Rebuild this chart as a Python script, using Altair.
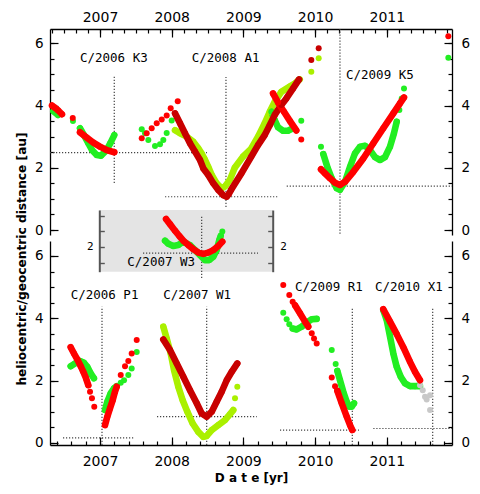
import altair as alt
import pandas as pd

# ------------------------------------------------------------------ ticks / labels
YEARS = [2007, 2008, 2009, 2010, 2011]
X_DOMAIN = [2006.3027, 2011.9093]
TOP_MINOR_TICKS = [round(2006 + k / 6, 4) for k in range(2, 36)]
BOT_MINOR_TICKS = [round(2006.4 + k * 0.2, 2) for k in range(28)]
Y_MAJOR = [0, 2, 4, 6]
Y_MINOR = [k * 0.5 for k in range(13)]
INSET_TICKS = [1.5, 2, 2.5, 3]
INSET_LABEL_TICKS = [2]
TOP_Y_DOMAIN = [-0.16, 6.46]
BOT_Y_DOMAIN = [-0.07, 6.48]
INSET_Y_DOMAIN = [1.21, 3.18]

# ------------------------------------------------------------------ top panel data
K3_RED_A_T = [2006.331, 2006.372, 2006.414, 2006.470]
K3_RED_A_V = [4.00, 3.93, 3.85, 3.72]
K3_RED_DOT_T = [2006.620]
K3_RED_DOT_V = [3.60]
K3_RED_B_T = [2006.721, 2006.815, 2006.907, 2007.000, 2007.093, 2007.199]
K3_RED_B_V = [3.14, 2.97, 2.81, 2.68, 2.57, 2.50]
K3_GRN_A_T = [2006.350, 2006.414]
K3_GRN_A_V = [3.82, 3.70]
K3_GRN_DOT_T = [2006.623]
K3_GRN_DOT_V = [3.50]
K3_GRN_B_T = [2006.721, 2006.777, 2006.837, 2006.888, 2006.954, 2007.014, 2007.093, 2007.146, 2007.199]
K3_GRN_B_V = [3.27, 3.05, 2.79, 2.57, 2.41, 2.39, 2.57, 2.80, 3.05]

A1_RED_DOT_T = [2007.582, 2007.651, 2007.721, 2007.791, 2007.861, 2007.930, 2007.986, 2008.084]
A1_RED_DOT_V = [2.95, 3.11, 3.27, 3.43, 3.55, 3.68, 3.91, 4.14]
A1_GRN_DOT_T = [2007.582, 2007.628, 2007.674, 2007.767, 2007.837, 2007.883, 2007.930, 2008.000]
A1_GRN_DOT_V = [3.24, 3.11, 2.89, 2.70, 2.76, 2.89, 3.12, 3.52]
A1_DKR_T = [2008.046, 2008.116, 2008.185, 2008.255, 2008.325, 2008.395, 2008.441, 2008.510,
            2008.580, 2008.650, 2008.720, 2008.767, 2008.795, 2008.831, 2008.971, 2009.110,
            2009.204, 2009.297, 2009.367, 2009.437, 2009.529, 2009.599, 2009.693, 2009.776]
A1_DKR_V = [3.75, 3.43, 3.11, 2.79, 2.52, 2.25, 1.98, 1.77, 1.50, 1.29, 1.12, 1.07, 1.15, 1.30,
            1.82, 2.36, 2.73, 3.05, 3.37, 3.70, 4.02, 4.23, 4.55, 4.84]
A1_DKR_DOT_T = [2009.947, 2010.050]
A1_DKR_DOT_V = [5.46, 5.84]
A1_YGR_T = [2008.046, 2008.116, 2008.209, 2008.301, 2008.371, 2008.418, 2008.455, 2008.510,
            2008.558, 2008.627, 2008.697, 2008.743, 2008.813, 2008.879, 2008.994, 2009.110,
            2009.204, 2009.297, 2009.367, 2009.437, 2009.529, 2009.646, 2009.716, 2009.785]
A1_YGR_V = [3.21, 3.11, 3.00, 2.84, 2.63, 2.46, 2.30, 2.03, 1.77, 1.50, 1.34, 1.40, 1.62, 2.00,
            2.36, 2.62, 3.00, 3.43, 3.80, 4.12, 4.44, 4.61, 4.71, 4.84]
A1_YGR_DOT_T = [2009.947, 2010.050]
A1_YGR_DOT_V = [5.09, 5.52]
A1_RED_LATE_T = [2009.413, 2009.483, 2009.566, 2009.650, 2009.738]
A1_RED_LATE_V = [4.39, 4.10, 3.80, 3.50, 3.20]
A1_RED_LATE_DOT_T = [2009.807]
A1_RED_LATE_DOT_V = [2.91]
A1_GRN_LATE_T = [2009.389, 2009.437, 2009.483, 2009.552, 2009.622, 2009.692]
A1_GRN_LATE_V = [3.80, 3.53, 3.30, 3.19, 3.19, 3.27]
A1_GRN_LATE_DOT_T = [2009.807]
A1_GRN_LATE_DOT_V = [3.51]

K5_RED_T = [2010.082, 2010.138, 2010.208, 2010.278, 2010.347, 2010.417, 2010.533, 2010.672,
            2010.812, 2010.951, 2011.091, 2011.184, 2011.240]
K5_RED_V = [1.95, 1.82, 1.66, 1.52, 1.45, 1.55, 1.87, 2.30, 2.79, 3.27, 3.75, 4.07, 4.26]
K5_GRN_DOT_T = [2010.082, 2011.175, 2011.208, 2011.240]
K5_GRN_DOT_V = [2.68, 3.86, 4.23, 4.55]
K5_GRN_T = [2010.114, 2010.170, 2010.232, 2010.301, 2010.347, 2010.417, 2010.487, 2010.556,
            2010.626, 2010.696, 2010.766, 2010.835, 2010.905, 2010.975, 2011.045, 2011.100, 2011.138]
K5_GRN_V = [2.44, 2.03, 1.66, 1.34, 1.29, 1.55, 2.03, 2.46, 2.68, 2.71, 2.57, 2.34, 2.25, 2.34,
            2.68, 3.11, 3.48]
FAR_RED_T = [2011.858]
FAR_RED_V = [6.23]
FAR_GRN_T = [2011.858]
FAR_GRN_V = [5.54]

TOP_LABELS = ["C/2006 K3", "C/2008 A1", "C/2009 K5"]
TOP_LABEL_T = [2006.721, 2008.279, 2010.431]
TOP_LABEL_V = [5.52, 5.52, 4.98]
TOP_VLINE_T = [2007.199, 2008.757, 2010.347]
TOP_VLINE_V1 = [1.51, 0.74, -0.12]
TOP_VLINE_V2 = [4.93, 4.92, 6.46]
TOP_HLINE_V = [2.49, 1.07, 1.41]
TOP_HLINE_T1 = [2006.3027, 2007.907, 2009.604]
TOP_HLINE_T2 = [2008.492, 2009.497, 2011.9093]

# ------------------------------------------------------------------ inset (C/2007 W3)
W3_RED_T = [2007.921, 2007.976, 2008.046, 2008.106, 2008.162, 2008.232, 2008.301, 2008.371,
            2008.441, 2008.510, 2008.580, 2008.650, 2008.706]
W3_RED_V = [2.89, 2.73, 2.52, 2.35, 2.20, 2.06, 1.93, 1.82, 1.78, 1.82, 1.90, 2.03, 2.17]
W3_GRN_T = [2007.907, 2007.953, 2008.022, 2008.092, 2008.162, 2008.255, 2008.325, 2008.395,
            2008.464, 2008.524, 2008.580, 2008.627, 2008.664, 2008.683]
W3_GRN_V = [2.20, 2.10, 2.03, 2.06, 2.17, 2.06, 1.90, 1.74, 1.58, 1.58, 1.69, 1.90, 2.22, 2.35]
W3_GRN_DOT_T = [2008.706]
W3_GRN_DOT_V = [2.49]
INSET_BOX_T = [2006.990, 2009.409]
INSET_BOX_V = [1.21, 3.18]
INSET_LABEL = ["C/2007 W3"]
INSET_LABEL_T = [2007.381]
INSET_LABEL_V = [1.53]
INSET_VLINE_T = [2008.418]
INSET_VLINE_V1 = [1.01]
INSET_VLINE_V2 = [3.02]
INSET_HLINE_V = [1.80]
INSET_HLINE_T1 = [2007.600]
INSET_HLINE_T2 = [2009.204]

# ------------------------------------------------------------------ bottom panel data
P1_RED_A_T = [2006.591, 2006.637, 2006.683, 2006.731, 2006.767, 2006.805, 2006.837]
P1_RED_A_V = [3.07, 2.87, 2.68, 2.46, 2.28, 2.07, 1.85]
P1_RED_A_DOT_T = [2006.861, 2006.888, 2006.920]
P1_RED_A_DOT_V = [1.64, 1.43, 1.16]
P1_RED_B_T = [2007.070, 2007.102, 2007.139, 2007.177, 2007.209, 2007.233]
P1_RED_B_V = [0.57, 0.84, 1.10, 1.37, 1.64, 1.80]
P1_RED_B_DOT_T = [2007.289, 2007.349, 2007.395, 2007.442, 2007.512]
P1_RED_B_DOT_V = [2.18, 2.46, 2.63, 2.87, 3.30]
P1_GRN_A_T = [2006.591, 2006.651, 2006.721, 2006.777, 2006.823, 2006.870, 2006.916]
P1_GRN_A_V = [2.46, 2.55, 2.63, 2.57, 2.44, 2.23, 2.07]
P1_GRN_B_T = [2007.070, 2007.102, 2007.149, 2007.195, 2007.233]
P1_GRN_B_V = [1.05, 1.32, 1.59, 1.75, 1.82]
P1_GRN_B_DOT_T = [2007.289, 2007.335, 2007.395, 2007.442, 2007.512]
P1_GRN_B_DOT_V = [1.93, 2.01, 2.18, 2.39, 2.92]

W1_DKR_T = [2007.883, 2007.976, 2008.070, 2008.162, 2008.255, 2008.349, 2008.418, 2008.488,
            2008.558, 2008.627, 2008.697, 2008.767, 2008.837, 2008.915]
W1_DKR_V = [3.32, 2.98, 2.55, 2.12, 1.69, 1.27, 0.94, 0.84, 1.00, 1.32, 1.64, 2.01, 2.28, 2.55]
W1_YGR_T = [2007.883, 2007.930, 2007.986, 2008.032, 2008.092, 2008.153, 2008.218, 2008.293,
            2008.371, 2008.441, 2008.488, 2008.558, 2008.650, 2008.743, 2008.813, 2008.859]
W1_YGR_V = [3.73, 3.35, 2.87, 2.34, 1.80, 1.37, 1.00, 0.62, 0.35, 0.19, 0.22, 0.41, 0.57, 0.73,
            0.92, 1.05]
W1_YGR_DOT_T = [2008.883, 2008.915]
W1_YGR_DOT_V = [1.43, 1.80]

R1_RED_DOT_T = [2009.556, 2009.640, 2009.687, 2009.953, 2009.985, 2010.022, 2010.232, 2010.278]
R1_RED_DOT_V = [5.07, 4.75, 4.53, 3.52, 3.35, 3.19, 2.10, 1.82]
R1_RED_A_T = [2009.720, 2009.789, 2009.859, 2009.905]
R1_RED_A_V = [4.42, 4.16, 3.89, 3.73]
R1_RED_B_T = [2010.310, 2010.371, 2010.441, 2010.487, 2010.519]
R1_RED_B_V = [1.67, 1.27, 0.84, 0.57, 0.41]
R1_GRN_DOT_T = [2009.556, 2009.603, 2009.640, 2010.232, 2010.287]
R1_GRN_DOT_V = [4.18, 3.97, 3.81, 2.98, 2.53]
R1_GRN_A_T = [2009.687, 2009.743, 2009.813, 2009.883, 2009.953, 2010.022]
R1_GRN_A_V = [3.67, 3.64, 3.73, 3.86, 3.97, 3.98]
R1_GRN_B_T = [2010.310, 2010.347, 2010.393, 2010.441, 2010.477, 2010.510, 2010.543]
R1_GRN_B_V = [2.31, 2.01, 1.64, 1.32, 1.16, 1.16, 1.27]

X1_RED_T = [2010.951, 2011.045, 2011.138, 2011.230, 2011.324, 2011.393, 2011.463]
X1_RED_V = [4.29, 3.89, 3.49, 3.07, 2.60, 2.28, 2.01]
X1_GRN_T = [2010.951, 2010.999, 2011.045, 2011.091, 2011.138, 2011.194, 2011.254, 2011.324,
            2011.393, 2011.463]
X1_GRN_V = [4.26, 3.94, 3.41, 2.87, 2.44, 2.12, 1.91, 1.82, 1.82, 1.82]
X1_GRY_DOT_T = [2011.463, 2011.501, 2011.533, 2011.556, 2011.603, 2011.603]
X1_GRY_DOT_V = [1.85, 1.69, 1.48, 1.39, 1.53, 1.05]

BOT_LABELS = ["C/2006 P1", "C/2007 W1", "C/2009 R1", "C/2010 X1"]
BOT_LABEL_T = [2006.591, 2007.883, 2009.720, 2010.835]
BOT_LABEL_V = [4.75, 4.75, 5.01, 5.01]
BOT_VLINE_T = [2007.028, 2008.488, 2010.519, 2011.640]
BOT_VLINE_V1 = [-0.07, -0.07, -0.07, -0.07]
BOT_VLINE_V2 = [4.37, 4.37, 4.33, 4.33]
BOT_HLINE_V = [0.16, 0.84, 0.41, 0.46]
BOT_HLINE_T1 = [2006.484, 2007.795, 2009.510, 2010.812]
BOT_HLINE_T2 = [2007.488, 2009.186, 2010.612, 2011.9093]

# ------------------------------------------------------------------ styling
RED = "#ff0000"
DKRED = "#c80000"
GREEN = "#22ee22"
YLGRN = "#aaf000"
GRAY = "#c8c8c8"
W, H = 402, 416
TOP_RANGE = [206, 0]
BOT_RANGE = [416, 212]
INSET_RANGE = [242.7, 181]

_seg = [0]


def add(rows, color, grp, kind, ts, vs):
    if kind == "line":
        _seg[0] += 1
    for t, v in zip(ts, vs):
        if kind == "dot":
            _seg[0] += 1
        rows.append(dict(t=t, v=v, c=color, grp=grp, kind=kind, seg=_seg[0], i=len(rows)))


top_rows = []
add(top_rows, GREEN, "geo", "line", K3_GRN_A_T, K3_GRN_A_V)
add(top_rows, GREEN, "geo", "dot", K3_GRN_DOT_T, K3_GRN_DOT_V)
add(top_rows, GREEN, "geo", "line", K3_GRN_B_T, K3_GRN_B_V)
add(top_rows, GREEN, "geo", "dot", A1_GRN_DOT_T, A1_GRN_DOT_V)
add(top_rows, YLGRN, "geo", "line", A1_YGR_T, A1_YGR_V)
add(top_rows, YLGRN, "geo", "dot", A1_YGR_DOT_T, A1_YGR_DOT_V)
add(top_rows, GREEN, "geo", "line", A1_GRN_LATE_T, A1_GRN_LATE_V)
add(top_rows, GREEN, "geo", "dot", A1_GRN_LATE_DOT_T, A1_GRN_LATE_DOT_V)
add(top_rows, GREEN, "geo", "line", K5_GRN_T, K5_GRN_V)
add(top_rows, GREEN, "geo", "dot", K5_GRN_DOT_T, K5_GRN_DOT_V)
add(top_rows, GREEN, "geo", "dot", FAR_GRN_T, FAR_GRN_V)
add(top_rows, RED, "helio", "line", K3_RED_A_T, K3_RED_A_V)
add(top_rows, RED, "helio", "dot", K3_RED_DOT_T, K3_RED_DOT_V)
add(top_rows, RED, "helio", "line", K3_RED_B_T, K3_RED_B_V)
add(top_rows, RED, "helio", "dot", A1_RED_DOT_T, A1_RED_DOT_V)
add(top_rows, DKRED, "helio", "line", A1_DKR_T, A1_DKR_V)
add(top_rows, DKRED, "helio", "dot", A1_DKR_DOT_T, A1_DKR_DOT_V)
add(top_rows, RED, "helio", "line", A1_RED_LATE_T, A1_RED_LATE_V)
add(top_rows, RED, "helio", "dot", A1_RED_LATE_DOT_T, A1_RED_LATE_DOT_V)
add(top_rows, RED, "helio", "line", K5_RED_T, K5_RED_V)
add(top_rows, RED, "helio", "dot", FAR_RED_T, FAR_RED_V)

inset_rows = []
add(inset_rows, GREEN, "geo", "line", W3_GRN_T, W3_GRN_V)
add(inset_rows, GREEN, "geo", "dot", W3_GRN_DOT_T, W3_GRN_DOT_V)
add(inset_rows, RED, "helio", "line", W3_RED_T, W3_RED_V)

bot_rows = []
add(bot_rows, GREEN, "geo", "line", P1_GRN_A_T, P1_GRN_A_V)
add(bot_rows, GREEN, "geo", "line", P1_GRN_B_T, P1_GRN_B_V)
add(bot_rows, GREEN, "geo", "dot", P1_GRN_B_DOT_T, P1_GRN_B_DOT_V)
add(bot_rows, YLGRN, "geo", "line", W1_YGR_T, W1_YGR_V)
add(bot_rows, YLGRN, "geo", "dot", W1_YGR_DOT_T, W1_YGR_DOT_V)
add(bot_rows, GREEN, "geo", "line", R1_GRN_A_T, R1_GRN_A_V)
add(bot_rows, GREEN, "geo", "line", R1_GRN_B_T, R1_GRN_B_V)
add(bot_rows, GREEN, "geo", "dot", R1_GRN_DOT_T, R1_GRN_DOT_V)
add(bot_rows, GREEN, "geo", "line", X1_GRN_T, X1_GRN_V)
add(bot_rows, GRAY, "geo", "dot", X1_GRY_DOT_T, X1_GRY_DOT_V)
add(bot_rows, RED, "helio", "line", P1_RED_A_T, P1_RED_A_V)
add(bot_rows, RED, "helio", "dot", P1_RED_A_DOT_T, P1_RED_A_DOT_V)
add(bot_rows, RED, "helio", "line", P1_RED_B_T, P1_RED_B_V)
add(bot_rows, RED, "helio", "dot", P1_RED_B_DOT_T, P1_RED_B_DOT_V)
add(bot_rows, DKRED, "helio", "line", W1_DKR_T, W1_DKR_V)
add(bot_rows, RED, "helio", "dot", R1_RED_DOT_T, R1_RED_DOT_V)
add(bot_rows, RED, "helio", "line", R1_RED_A_T, R1_RED_A_V)
add(bot_rows, RED, "helio", "line", R1_RED_B_T, R1_RED_B_V)
add(bot_rows, RED, "helio", "line", X1_RED_T, X1_RED_V)

top_df = pd.DataFrame(top_rows)
bot_df = pd.DataFrame(bot_rows)
inset_df = pd.DataFrame(inset_rows)

XS = alt.Scale(domain=X_DOMAIN, nice=False, zero=False)


def ysc(domain, rng):
    return alt.Scale(domain=domain, range=rng, nice=False, zero=False)


AXBASE = dict(grid=False, labelFont="DejaVu Sans", labelColor="black", labelFlush=False,
              labelOverlap=False, domainColor="black", domainWidth=1.3, tickColor="black",
              tickWidth=1.2, title=None)


def ax(**kw):
    d = dict(AXBASE)
    d.update(kw)
    return alt.Axis(**d)


def axis_layer(df, ys, xaxis, yaxis):
    return alt.Chart(df).mark_point(opacity=0).encode(
        x=alt.X("t:Q", scale=XS, axis=xaxis),
        y=alt.Y("v:Q", scale=ys, axis=yaxis),
    )


def series_layers(df, ys):
    base = alt.Chart(df).encode(
        x=alt.X("t:Q", scale=XS, axis=None),
        y=alt.Y("v:Q", scale=ys, axis=None),
        color=alt.Color("c:N", scale=None),
        detail="seg:N",
        order=alt.Order("i:Q"),
    )
    out = []
    for g in ["geo", "helio"]:
        out.append(base.mark_line(strokeWidth=6.6, strokeCap="round", strokeJoin="round")
                   .transform_filter((alt.datum.grp == g) & (alt.datum.kind == "line")))
        out.append(base.mark_circle(size=36, opacity=1).transform_filter(alt.datum.grp == g))
    return out


def guide_layers(ys, vt, vv1, vv2, hv, ht1, ht2, lt, lv, labels):
    vdf = pd.DataFrame({"t": vt, "v1": vv1, "v2": vv2})
    hdf = pd.DataFrame({"t1": ht1, "t2": ht2, "v": hv})
    ldf = pd.DataFrame({"t": lt, "v": lv, "label": labels})
    dots = dict(color="#444444", strokeDash=[1.2, 1.8], strokeWidth=1.2)
    vr = alt.Chart(vdf).mark_rule(**dots).encode(
        x=alt.X("t:Q", scale=XS, axis=None), y=alt.Y("v1:Q", scale=ys, axis=None), y2="v2:Q")
    hr = alt.Chart(hdf).mark_rule(**dots).encode(
        x=alt.X("t1:Q", scale=XS, axis=None), x2="t2:Q", y=alt.Y("v:Q", scale=ys, axis=None))
    tx = alt.Chart(ldf).mark_text(align="left", baseline="middle", font="DejaVu Sans Mono",
                                  fontSize=12.5, color="black").encode(
        x=alt.X("t:Q", scale=XS, axis=None), y=alt.Y("v:Q", scale=ys, axis=None), text="label:N")
    return [hr, vr, tx]


# ------------------------------------------------------------------ top group
YT = ysc(TOP_Y_DOMAIN, TOP_RANGE)
top_axes = [
    axis_layer(top_df, YT,
               ax(orient="top", values=YEARS, format="d", ticks=False, labelFontSize=14, labelPadding=5),
               ax(orient="left", values=Y_MAJOR, format="d", ticks=False, labelFontSize=13.5,
                  labelPadding=7, title="heliocentric/geocentric distance [au]",
                  titleFont="DejaVu Sans", titleFontWeight="bold", titleFontSize=12.2,
                  titleColor="black", titleX=-22, titleY=229.5, titleAngle=270,
                  titleBaseline="bottom", titleAlign="center")),
    axis_layer(top_df, YT,
               ax(orient="bottom", offset=-H, values=YEARS, tickSize=8, labels=False, domain=False),
               ax(orient="right", offset=-W, values=Y_MAJOR, tickSize=8, labels=False, domain=False)),
    axis_layer(top_df, YT,
               ax(orient="bottom", offset=-H, values=TOP_MINOR_TICKS, tickSize=4, labels=False, domain=False),
               ax(orient="right", offset=-W, values=Y_MINOR, tickSize=4, labels=False, domain=False)),
    axis_layer(top_df, YT, None,
               ax(orient="right", values=Y_MAJOR, format="d", ticks=False, labelFontSize=13.5, labelPadding=9)),
    axis_layer(top_df, YT, None,
               ax(orient="left", offset=-W, values=Y_MAJOR, tickSize=8, labels=False, domain=False)),
    axis_layer(top_df, YT, None,
               ax(orient="left", offset=-W, values=Y_MINOR, tickSize=4, labels=False, domain=False)),
]
top_group = alt.layer(
    *top_axes,
    *guide_layers(YT, TOP_VLINE_T, TOP_VLINE_V1, TOP_VLINE_V2, TOP_HLINE_V, TOP_HLINE_T1,
                  TOP_HLINE_T2, TOP_LABEL_T, TOP_LABEL_V, TOP_LABELS),
    *series_layers(top_df, YT),
).resolve_axis(x="independent", y="independent")

# ------------------------------------------------------------------ bottom group
YB = ysc(BOT_Y_DOMAIN, BOT_RANGE)
bot_axes = [
    axis_layer(bot_df, YB,
               ax(orient="bottom", values=YEARS, format="d", ticks=False, labelFontSize=14,
                  labelPadding=9, title="D a t e [yr]", titleFont="DejaVu Sans",
                  titleFontWeight="bold", titleFontSize=12, titleColor="black", titleY=36,
                  titleBaseline="alphabetic"),
               ax(orient="left", values=Y_MAJOR, format="d", ticks=False, labelFontSize=13.5, labelPadding=7)),
    axis_layer(bot_df, YB,
               ax(orient="top", offset=-H, values=YEARS, tickSize=8, labels=False, domain=False),
               ax(orient="right", offset=-W, values=Y_MAJOR, tickSize=8, labels=False, domain=False)),
    axis_layer(bot_df, YB,
               ax(orient="top", offset=-H, values=BOT_MINOR_TICKS, tickSize=4, labels=False, domain=False),
               ax(orient="right", offset=-W, values=Y_MINOR, tickSize=4, labels=False, domain=False)),
    axis_layer(bot_df, YB, None,
               ax(orient="right", values=Y_MAJOR, format="d", ticks=False, labelFontSize=13.5, labelPadding=9)),
    axis_layer(bot_df, YB, None,
               ax(orient="left", offset=-W, values=Y_MAJOR, tickSize=8, labels=False, domain=False)),
    axis_layer(bot_df, YB, None,
               ax(orient="left", offset=-W, values=Y_MINOR, tickSize=4, labels=False, domain=False)),
]
bot_group = alt.layer(
    *bot_axes,
    *guide_layers(YB, BOT_VLINE_T, BOT_VLINE_V1, BOT_VLINE_V2, BOT_HLINE_V, BOT_HLINE_T1,
                  BOT_HLINE_T2, BOT_LABEL_T, BOT_LABEL_V, BOT_LABELS),
    *series_layers(bot_df, YB),
).resolve_axis(x="independent", y="independent")

# ------------------------------------------------------------------ inset group
YI = ysc(INSET_Y_DOMAIN, INSET_RANGE)
INS_LEFT = 49.3
INS_RIGHT = 222.7
IAX = dict(domainColor="#555555", domainWidth=2, tickColor="#555555", tickWidth=1.4, zindex=1)
inset_axes = [
    axis_layer(inset_df, YI, None,
               ax(orient="left", offset=-INS_LEFT, values=INSET_LABEL_TICKS, format="d", ticks=False,
                  labelFontSize=10.5, labelPadding=6, **IAX)),
    axis_layer(inset_df, YI, None,
               ax(orient="right", offset=INS_LEFT - W, values=INSET_TICKS, tickSize=5, labels=False,
                  domain=False, **IAX)),
    axis_layer(inset_df, YI, None,
               ax(orient="right", offset=INS_RIGHT - W, values=INSET_LABEL_TICKS, format="d", ticks=False,
                  labelFontSize=10.5, labelPadding=7, **IAX)),
    axis_layer(inset_df, YI, None,
               ax(orient="left", offset=-INS_RIGHT, values=INSET_TICKS, tickSize=5, labels=False,
                  domain=False, **IAX)),
]
box_df = pd.DataFrame({"t1": [INSET_BOX_T[0]], "t2": [INSET_BOX_T[1]],
                       "v1": [INSET_BOX_V[0]], "v2": [INSET_BOX_V[1]]})
inset_box = alt.Chart(box_df).mark_rect(color="#e4e4e4").encode(
    x=alt.X("t1:Q", scale=XS, axis=None), x2="t2:Q",
    y=alt.Y("v1:Q", scale=YI, axis=None), y2="v2:Q")
inset_group = alt.layer(
    inset_box,
    *inset_axes,
    *guide_layers(YI, INSET_VLINE_T, INSET_VLINE_V1, INSET_VLINE_V2, INSET_HLINE_V,
                  INSET_HLINE_T1, INSET_HLINE_T2, INSET_LABEL_T, INSET_LABEL_V, INSET_LABEL),
    *series_layers(inset_df, YI),
).resolve_axis(x="independent", y="independent")

chart = (
    alt.layer(top_group, bot_group, inset_group)
    .resolve_scale(y="independent")
    .resolve_axis(x="independent", y="independent")
    .properties(width=W, height=H, autosize=alt.AutoSizeParams(type="none"),
                padding={"left": 42, "top": 21, "right": 19, "bottom": 40})
    .configure_view(strokeOpacity=0)
)

chart.save("out.html", embed_options={"renderer": "svg", "actions": False})
